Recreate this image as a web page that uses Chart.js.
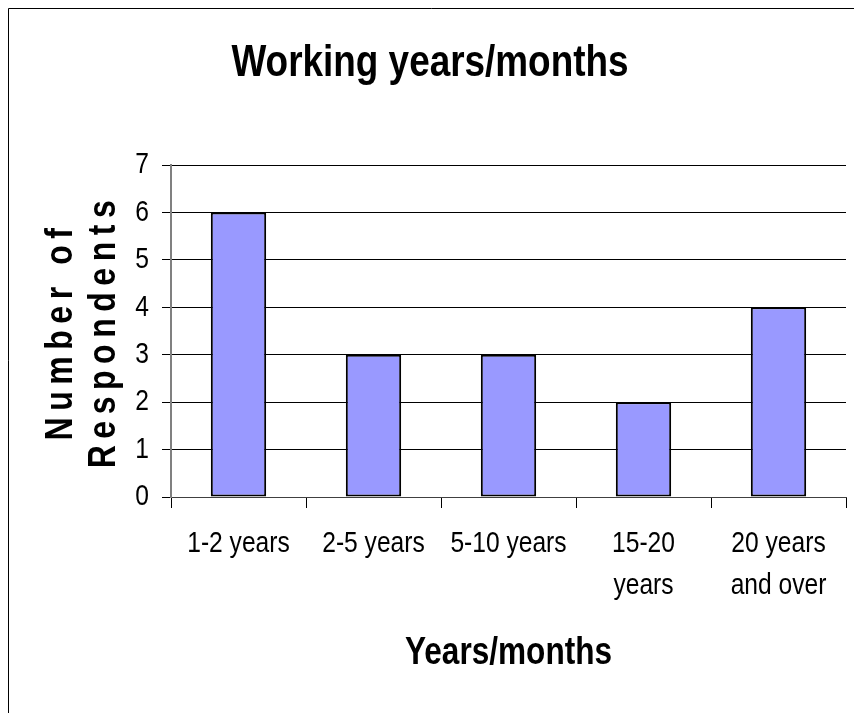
<!DOCTYPE html>
<html>
<head>
<meta charset="utf-8">
<script src="https://cdn.jsdelivr.net/npm/chart.js@4/dist/chart.umd.min.js"></script>
<style>
  html, body { margin: 0; padding: 0; background: #ffffff; }
  #wrap { width: 854px; height: 713px; position: relative; }
</style>
</head>
<body>
<div id="wrap"><canvas id="c" width="854" height="713"></canvas></div>
<script>
const chartTitle = 'Working years/months';
const xAxisTitle = 'Years/months';
const yAxisTitle = ['Number of', 'Respondents'];
const categories = ['1-2 years', '2-5 years', '5-10 years', ['15-20', 'years'], ['20 years', 'and over']];
const respondents = [6, 3, 3, 2, 4];
const yTicks = [0, 1, 2, 3, 4, 5, 6, 7];

const FONT = "'Liberation Sans', Arial, sans-serif";

// The reference uses a condensed (Arial Narrow-like) face; emulate it by
// drawing the real text with a horizontal condensation around its anchor.
const canvas = document.getElementById('c');
const ctx2d = canvas.getContext('2d');
const SX = 0.82;
const origFill = ctx2d.fillText;
ctx2d.fillText = function (text, x, y, maxWidth) {
  this.save();
  this.translate(x, y);
  this.scale(SX, 1);
  if (maxWidth === undefined || maxWidth === null) origFill.call(this, text, 0, 0);
  else origFill.call(this, text, 0, 0, maxWidth / SX);
  this.restore();
};

const framePlugin = {
  id: 'frame',
  beforeDraw(chart) {
    const ctx = chart.ctx;
    ctx.save();
    ctx.fillStyle = '#ffffff';
    ctx.fillRect(0, 0, chart.width, chart.height);
    ctx.strokeStyle = '#000000';
    ctx.lineWidth = 1;
    ctx.beginPath();
    ctx.moveTo(8.5, chart.height);
    ctx.lineTo(8.5, 8.5);
    ctx.lineTo(chart.width, 8.5);
    ctx.stroke();
    ctx.restore();
  }
};

const spacingPlugin = {
  id: 'ySpacing',
  afterLayout(chart) {
    const s = chart.scales.y;
    if (s && !s._spaced) {
      const orig = s.drawTitle;
      s.drawTitle = function () {
        const ctx = this.ctx;
        ctx.save();
        try { ctx.letterSpacing = '8px'; } catch (e) {}
        orig.apply(this, arguments);
        ctx.restore();
      };
      s._spaced = true;
    }
  }
};

new Chart(canvas, {
  type: 'bar',
  data: {
    labels: categories,
    datasets: [{
      data: respondents,
      backgroundColor: '#9999FF',
      borderColor: '#000000',
      borderWidth: 2,
      borderSkipped: false,
      categoryPercentage: 1.0,
      barPercentage: 0.41
    }]
  },
  options: {
    responsive: false,
    animation: false,
    devicePixelRatio: 1,
    layout: { padding: { left: 14, right: 8, top: 0, bottom: 0 } },
    plugins: {
      legend: { display: false },
      tooltip: { enabled: false },
      title: {
        display: true,
        text: chartTitle,
        color: '#000000',
        font: { family: FONT, size: 45, weight: 'bold', lineHeight: 1.2 },
        padding: { top: 36.7, bottom: 74.3 }
      }
    },
    scales: {
      x: {
        afterFit(scale) { scale.height = 216; },
        grid: {
          offset: true,
          drawOnChartArea: false,
          drawTicks: true,
          tickLength: 11,
          color: '#000000',
          lineWidth: 1
        },
        border: { display: true, color: '#404040', width: 1 },
        ticks: {
          color: '#000000',
          padding: 14,
          maxRotation: 0,
          autoSkip: false,
          font: { family: FONT, size: 30, lineHeight: 1.42 }
        },
        title: {
          display: true,
          text: xAxisTitle,
          color: '#000000',
          font: { family: FONT, size: 38.5, weight: 'bold', lineHeight: 1.2 },
          padding: { top: 0, bottom: 37 }
        }
      },
      y: {
        min: 0,
        max: 7,
        afterFit(scale) { scale.width = 157; },
        afterBuildTicks(scale) { scale.ticks = yTicks.map(v => ({ value: v })); },
        grid: {
          color: '#000000',
          lineWidth: 1,
          drawTicks: true,
          tickLength: 9
        },
        border: { display: true, color: '#808080', width: 2 },
        ticks: {
          color: '#000000',
          padding: 13,
          font: { family: FONT, size: 30, lineHeight: 1.2 }
        },
        title: {
          display: true,
          text: yAxisTitle,
          color: '#000000',
          font: { family: FONT, size: 39, weight: 'bold', lineHeight: 1.1 },
          padding: { top: 25.8, bottom: 0 }
        }
      }
    }
  },
  plugins: [framePlugin, spacingPlugin]
});
</script>
</body>
</html>
